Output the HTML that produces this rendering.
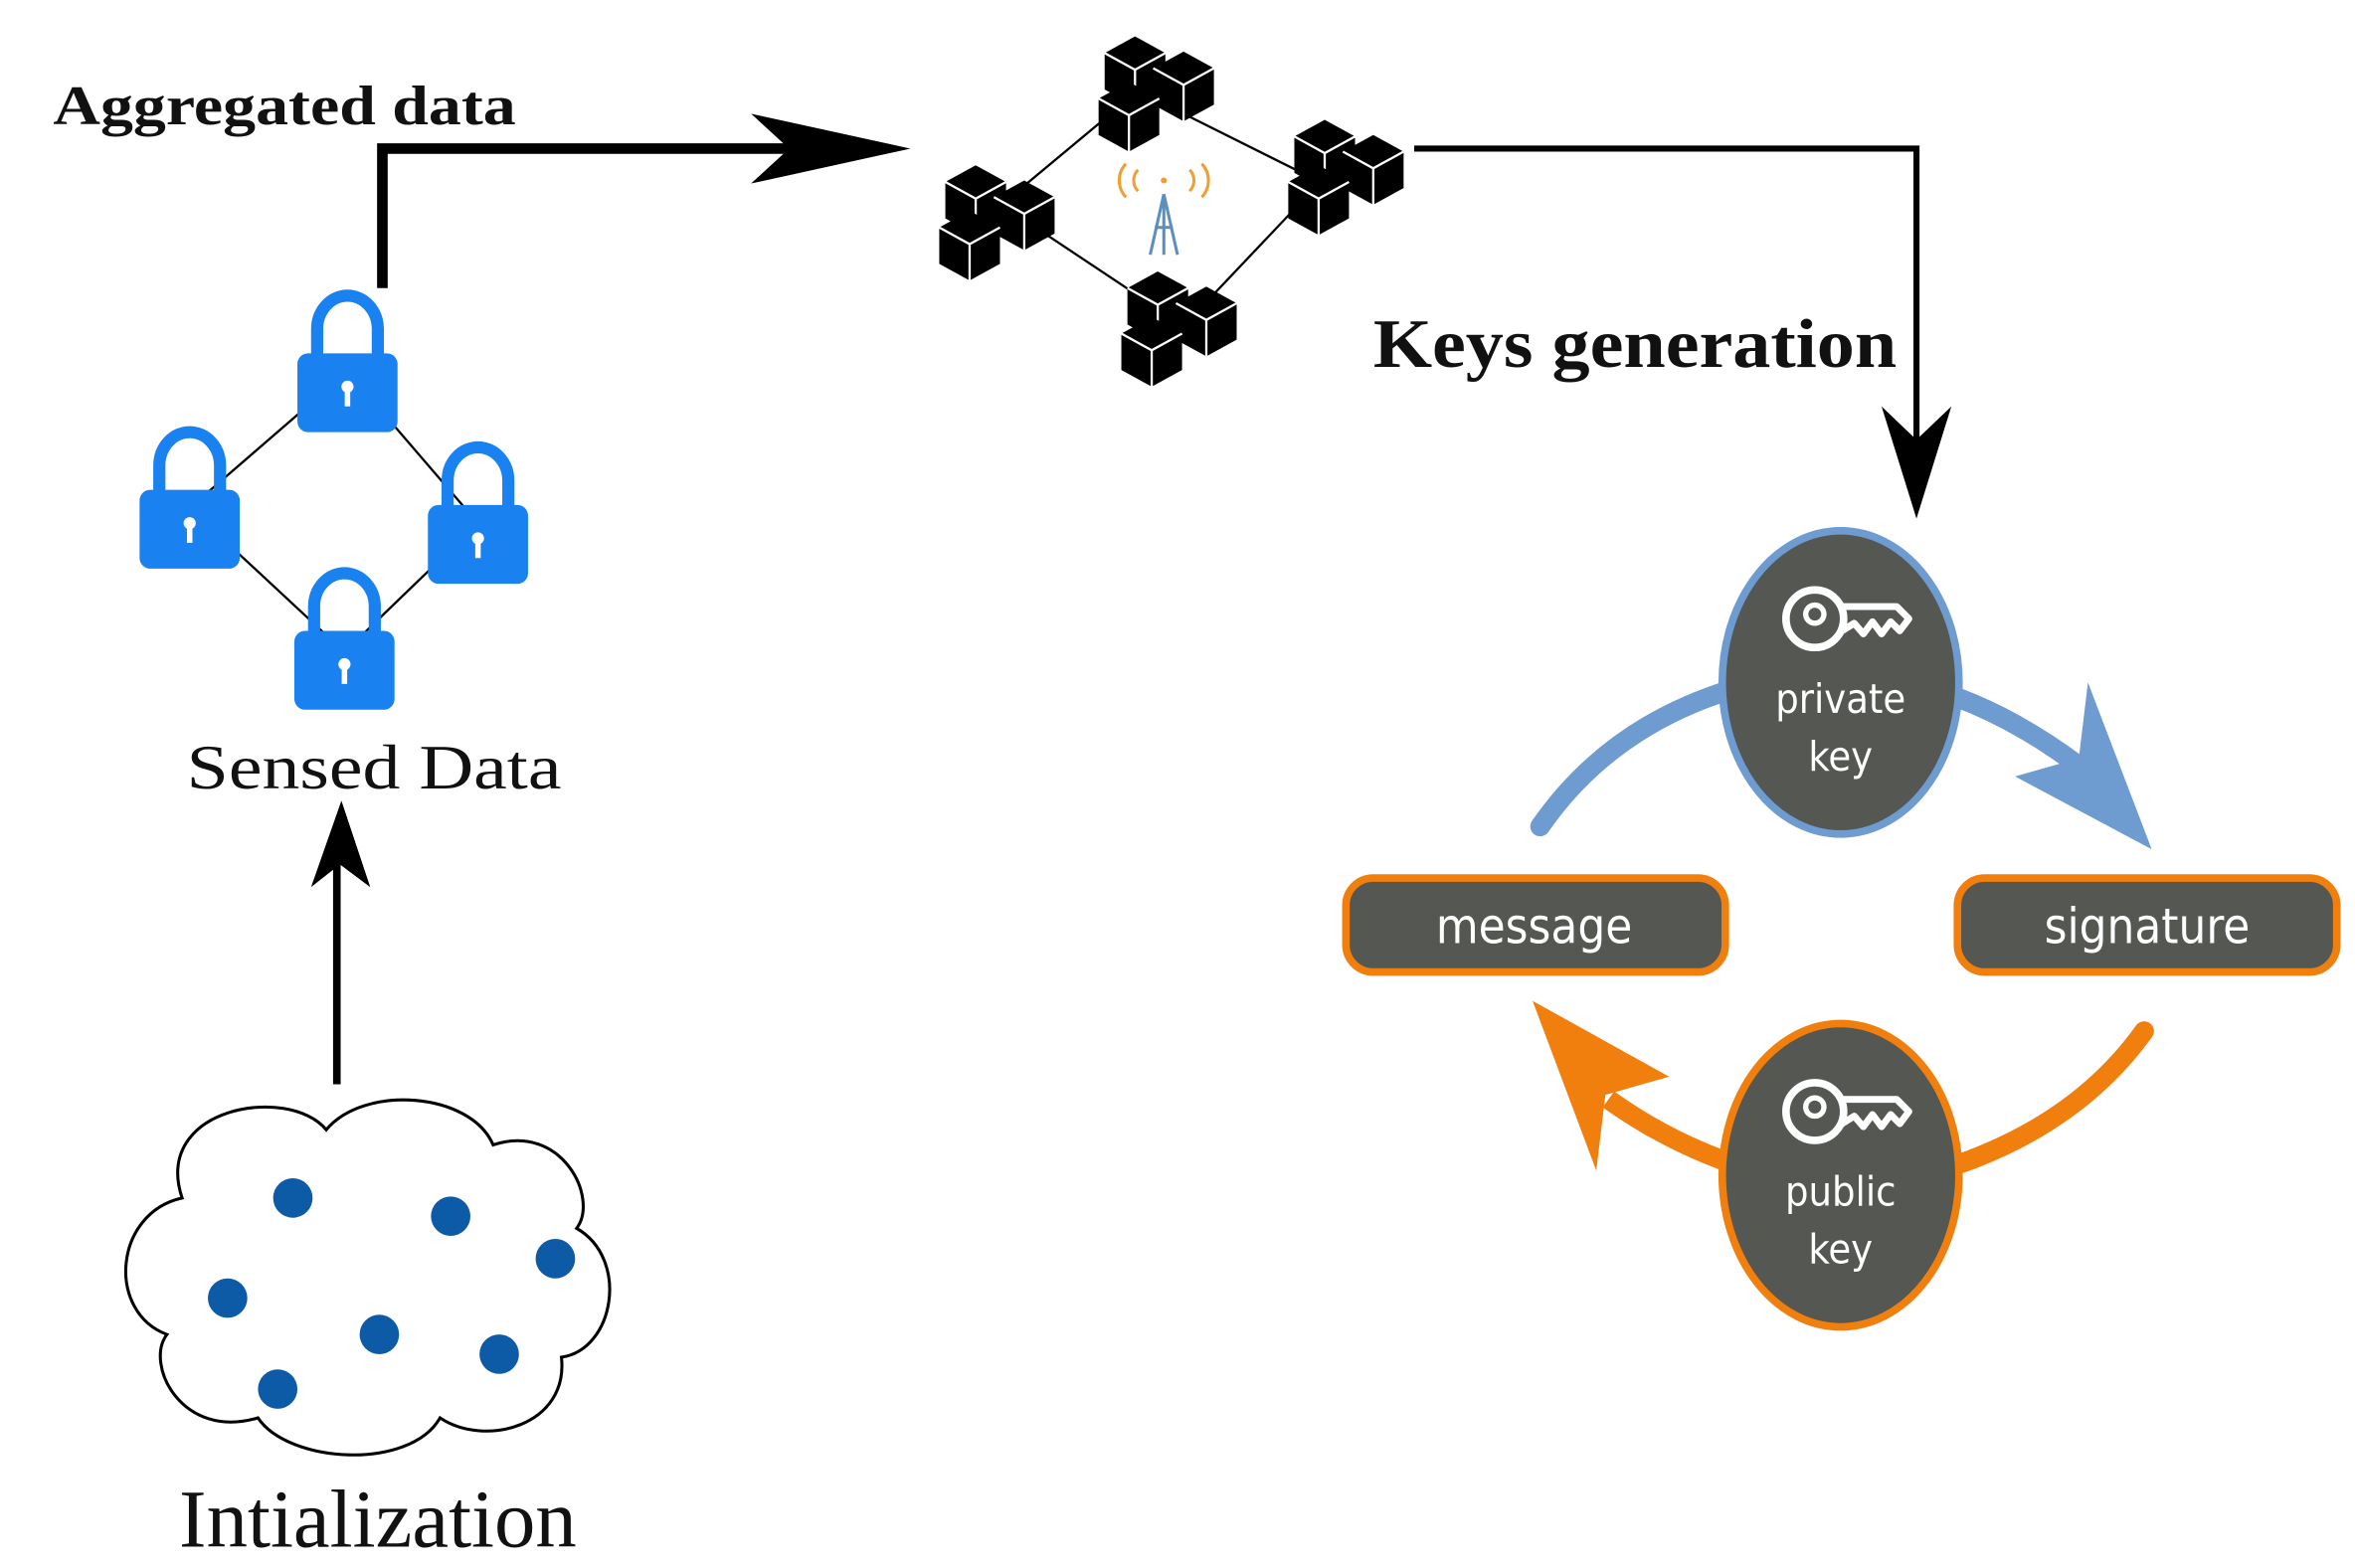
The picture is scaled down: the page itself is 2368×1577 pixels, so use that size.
<!DOCTYPE html>
<html><head><meta charset="utf-8"><style>
html,body{margin:0;padding:0;background:#fff}
svg{display:block}
</style></head><body>
<svg width="2368" height="1577" viewBox="0 0 1552 1034" preserveAspectRatio="none" xmlns="http://www.w3.org/2000/svg">
<defs>
<g id="lock">
  <path d="M-20,-10 V-28 A20,22 0 0 1 20,-28 V-10" fill="none" stroke="#1a82f0" stroke-width="8"/>
  <rect x="-33" y="-12" width="66" height="52" rx="7" fill="#1a82f0"/>
  <circle cx="0" cy="10" r="4" fill="#fff"/>
  <rect x="-1.8" y="10" width="3.6" height="13" fill="#fff"/>
</g>
<g id="cube">
  <path d="M0,-22 L20,-11 L20,13 L0,24 L-20,13 L-20,-11 Z" fill="#000"/>
  <path d="M-20,-11 L0,0 L20,-11 M0,0 V24" stroke="#fff" stroke-width="1.5" fill="none"/>
</g>
<g id="cluster">
  <use href="#cube" x="-12" y="-14"/>
  <use href="#cube" x="20" y="-4"/>
  <use href="#cube" x="-16" y="16"/>
</g>
<g id="key">
  <circle cx="-22" cy="0" r="19" fill="none" stroke="#fff" stroke-width="5"/>
  <circle cx="-22" cy="-3" r="6" fill="none" stroke="#fff" stroke-width="3.5"/>
  <path d="M-4,-8 H32 L40,0 L34,8 L28,2 L22,10 L16,2 L10,10 L4,3 L-4,8" fill="none" stroke="#fff" stroke-width="4.5" stroke-linejoin="round"/>
</g>
</defs>

<text x="35" y="82" font-family="Liberation Serif, serif" font-weight="bold" font-size="37" textLength="305" lengthAdjust="spacingAndGlyphs" fill="#111">Aggregated data</text>
<path d="M252,190 V98 H560" fill="none" stroke="#000" stroke-width="7"/>
<path d="M600,98 L495,75 L520,98 L495,121 Z" fill="#000"/>

<path d="M660,135 L750,60 L870,120 L780,215 Z" fill="none" stroke="#000" stroke-width="1.5"/>
<use href="#cluster" x="760" y="60"/>
<use href="#cluster" x="655" y="145"/>
<use href="#cluster" x="885" y="115"/>
<use href="#cluster" x="775" y="215"/>
<g>
  <path d="M767,128 L758,168 M767,128 L776,168 M761,150 H773 M767,128 V168" stroke="#5a8fc0" stroke-width="2" fill="none"/>
  <path d="M750,112 A10,10 0 0 0 750,126 M784,112 A10,10 0 0 1 784,126 M742,108 A16,16 0 0 0 742,130 M792,108 A16,16 0 0 1 792,130" stroke="#f0a030" stroke-width="2" fill="none"/>
  <circle cx="767" cy="119" r="2" fill="#f0a030"/>
</g>

<path d="M932,98 H1263 V300" fill="none" stroke="#000" stroke-width="4"/>
<path d="M1263,342 L1240,268 L1263,290 L1286,268 Z" fill="#000"/>
<text x="905" y="242" font-family="Liberation Serif, serif" font-weight="bold" font-size="46" textLength="345" lengthAdjust="spacingAndGlyphs" fill="#111">Keys generation</text>

<path d="M229,245 L125,335 L227,430 L315,345 Z" fill="none" stroke="#000" stroke-width="1.5"/>
<use href="#lock" x="229" y="245"/>
<use href="#lock" x="125" y="335"/>
<use href="#lock" x="315" y="345"/>
<use href="#lock" x="227" y="428"/>
<text x="123" y="520" font-family="Liberation Serif, serif" font-size="42" textLength="247" lengthAdjust="spacingAndGlyphs" fill="#111">Sensed Data</text>

<path d="M222,715 V570" stroke="#000" stroke-width="5"/>
<path d="M225,528 L205,585 L224,570 L244,585 Z" fill="#000"/>

<path d="M120,790 C100,730 190,715 215,745 C240,715 310,720 325,755 C370,740 395,790 380,810 C415,830 405,890 370,895 C375,940 320,955 290,935 C270,970 190,965 170,935 C120,950 95,900 110,880 C70,865 75,800 120,790 Z" fill="#fff" stroke="#000" stroke-width="2"/>
<g fill="#0d5aa7">
<circle cx="193" cy="790" r="13"/><circle cx="297" cy="802" r="13"/><circle cx="366" cy="830" r="13"/>
<circle cx="150" cy="856" r="13"/><circle cx="250" cy="880" r="13"/><circle cx="329" cy="893" r="13"/>
<circle cx="183" cy="916" r="13"/>
</g>
<text x="118" y="1020" font-family="Liberation Serif, serif" font-size="54" textLength="262" lengthAdjust="spacingAndGlyphs" fill="#111">Intialization</text>

<path d="M1015,545 Q1060,480 1140,455" fill="none" stroke="#6e9bd0" stroke-width="13" stroke-linecap="round"/>
<path d="M1290,460 Q1330,475 1370,505" fill="none" stroke="#6e9bd0" stroke-width="13"/>
<path d="M1418,560 L1376,450 L1370,500 L1328,512 Z" fill="#6e9bd0"/>
<path d="M1413,680 Q1370,740 1290,768" fill="none" stroke="#f07f0e" stroke-width="13" stroke-linecap="round"/>
<path d="M1135,765 Q1095,750 1060,725" fill="none" stroke="#f07f0e" stroke-width="13"/>
<path d="M1010,660 L1052,772 L1058,722 L1100,710 Z" fill="#f07f0e"/>

<ellipse cx="1213" cy="450" rx="78" ry="100" fill="#555753" stroke="#6e9bd0" stroke-width="5"/>
<use href="#key" x="1218" y="408"/>
<text x="1213" y="470" text-anchor="middle" font-family="DejaVu Sans Condensed, DejaVu Sans, sans-serif" font-size="27" fill="#fff">private</text>
<text x="1213" y="508" text-anchor="middle" font-family="DejaVu Sans Condensed, DejaVu Sans, sans-serif" font-size="27" fill="#fff">key</text>

<ellipse cx="1213" cy="775" rx="78" ry="100" fill="#555753" stroke="#f07f0e" stroke-width="5"/>
<use href="#key" x="1218" y="733"/>
<text x="1213" y="795" text-anchor="middle" font-family="DejaVu Sans Condensed, DejaVu Sans, sans-serif" font-size="27" fill="#fff">public</text>
<text x="1213" y="833" text-anchor="middle" font-family="DejaVu Sans Condensed, DejaVu Sans, sans-serif" font-size="27" fill="#fff">key</text>

<rect x="887" y="579" width="250" height="62" rx="18" fill="#555753" stroke="#f07f0e" stroke-width="5"/>
<text x="1011" y="622" text-anchor="middle" font-family="DejaVu Sans Condensed, DejaVu Sans, sans-serif" font-size="32" fill="#fff">message</text>
<rect x="1290" y="579" width="250" height="62" rx="18" fill="#555753" stroke="#f07f0e" stroke-width="5"/>
<text x="1415" y="622" text-anchor="middle" font-family="DejaVu Sans Condensed, DejaVu Sans, sans-serif" font-size="32" fill="#fff">signature</text>
</svg>
</body></html>
